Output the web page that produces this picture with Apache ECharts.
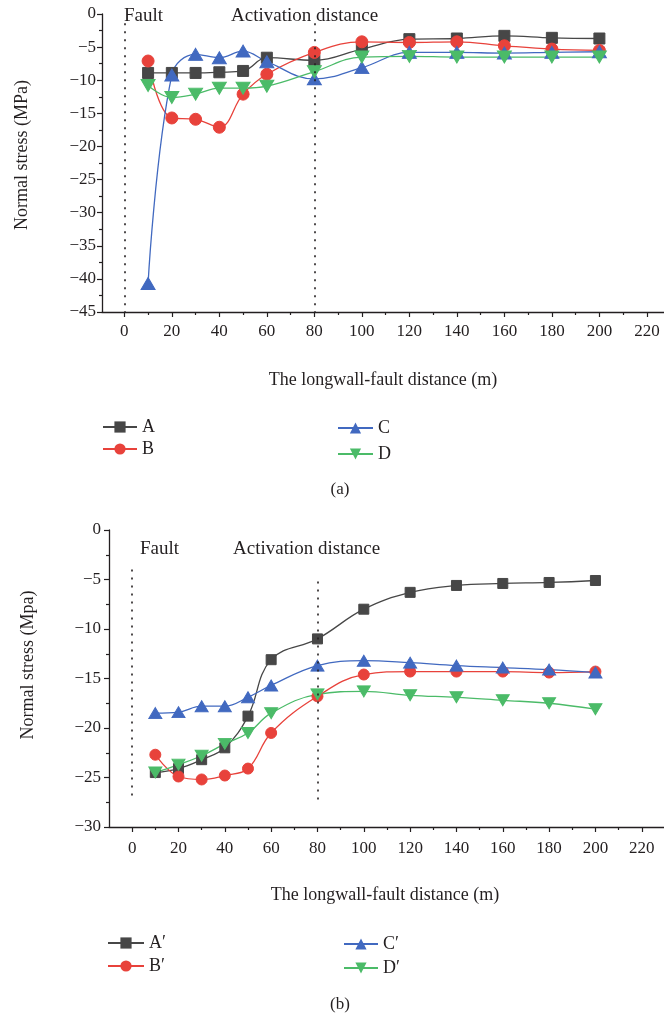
<!DOCTYPE html>
<html>
<head>
<meta charset="utf-8">
<title>Normal stress vs longwall-fault distance</title>
<script src="https://cdn.jsdelivr.net/npm/echarts@6/dist/echarts.min.js"></script>
<style>
  html, body { margin: 0; padding: 0; background: #fff; }
  #main { width: 664px; height: 1021px; }
</style>
</head>
<body>
<div id="main"></div>
<script>
// longwall-fault distance (m)
const distance = [10, 20, 30, 40, 50, 60, 80, 100, 120, 140, 160, 180, 200];

// (a) normal stress (MPa)
const stressA = [-8.9, -8.9, -8.9, -8.8, -8.6, -6.6, -7.0, -5.3, -3.8, -3.7, -3.3, -3.6, -3.7];
const stressB = [-7.1, -15.7, -15.9, -17.1, -12.1, -9.1, -5.8, -4.2, -4.3, -4.2, -4.8, -5.3, -5.5];
const stressC = [-40.7, -9.2, -6.1, -6.6, -5.6, -7.2, -9.8, -8.1, -5.8, -5.8, -5.9, -5.8, -5.7];
const stressD = [-10.8, -12.6, -12.1, -11.2, -11.2, -10.9, -8.7, -6.5, -6.4, -6.5, -6.5, -6.5, -6.5];

// (b) normal stress (MPa)
const stressA2 = [-24.5, -24.1, -23.2, -22.0, -18.8, -13.1, -11.0, -8.0, -6.3, -5.6, -5.4, -5.3, -5.1];
const stressB2 = [-22.7, -24.9, -25.2, -24.8, -24.1, -20.5, -16.8, -14.6, -14.3, -14.3, -14.3, -14.4, -14.3];
const stressC2 = [-18.5, -18.4, -17.8, -17.8, -16.9, -15.7, -13.7, -13.2, -13.4, -13.7, -13.9, -14.1, -14.4];
const stressD2 = [-24.5, -23.7, -22.8, -21.6, -20.5, -18.5, -16.6, -16.3, -16.7, -16.9, -17.2, -17.5, -18.1];

// tick labels
const xMajorTicks = [0, 20, 40, 60, 80, 100, 120, 140, 160, 180, 200, 220];
const xMinorTicks = [-10, 10, 30, 50, 70, 90, 110, 130, 150, 170, 190, 210, 230];

const FONT = 'Liberation Serif';
const INK = '#231f20';
const colors = { A: '#474747', B: '#e8423b', C: '#4169c0', D: '#4bbb68' };

const chart = echarts.init(document.getElementById('main'));

function pairs(ys) {
  return distance.map((x, i) => [x, ys[i]]);
}

function yLabel(v) {
  return v === 0 ? '0' : '\u2212' + Math.abs(v);
}

function mainX(grid, min, max, margin) {
  return {
    type: 'value', gridIndex: grid, min: min, max: max, position: 'bottom',
    axisLine: { show: true, onZero: false, lineStyle: { color: INK, width: 1.3 } },
    axisTick: { show: true, inside: false, length: 5, customValues: xMajorTicks,
      lineStyle: { color: INK, width: 1.2 } },
    axisLabel: { show: true, customValues: xMajorTicks, margin: margin,
      fontFamily: FONT, fontSize: 17, color: INK },
    splitLine: { show: false }
  };
}

function minorX(grid, min, max) {
  return {
    type: 'value', gridIndex: grid, min: min, max: max, position: 'bottom',
    axisLine: { show: false, onZero: false },
    axisTick: { show: true, inside: false, length: 3,
      customValues: xMinorTicks.filter(v => v > min && v < max),
      lineStyle: { color: INK, width: 1.2 } },
    axisLabel: { show: false },
    splitLine: { show: false }
  };
}

function valY(grid, min, margin) {
  return {
    type: 'value', gridIndex: grid, min: min, max: 0, interval: 5,
    axisLine: { show: true, onZero: false, lineStyle: { color: INK, width: 1.3 } },
    axisTick: { show: true, inside: false, length: 5, lineStyle: { color: INK, width: 1.2 } },
    minorTick: { show: true, splitNumber: 2, length: 3, lineStyle: { color: INK, width: 1.2 } },
    axisLabel: { margin: margin, fontFamily: FONT, fontSize: 17, color: INK, formatter: yLabel },
    splitLine: { show: false }
  };
}

function lineSeries(name, ys, color, symbol, size, rotate, grid, extra) {
  return Object.assign({
    name: name, type: 'line', xAxisIndex: grid * 2, yAxisIndex: grid,
    data: pairs(ys), smooth: 0.4,
    symbol: symbol, symbolSize: size, symbolRotate: rotate,
    lineStyle: { color: color, width: 1.3 },
    itemStyle: { color: color, borderColor: color },
    z: 3
  }, extra || {});
}

function dotted(x, y1, y2) {
  return [{ coord: [x, y1] }, { coord: [x, y2] }];
}

const markDotsA = {
  markLine: {
    silent: true, symbol: ['none', 'none'], label: { show: false },
    lineStyle: { color: INK, type: [2, 6], width: 1.6 },
    data: [dotted(0, -1.4, -45), dotted(80, -1.4, -45)]
  }
};
const markDotsB = {
  markLine: {
    silent: true, symbol: ['none', 'none'], label: { show: false },
    lineStyle: { color: INK, type: [2, 6], width: 1.6 },
    data: [dotted(0, -4, -27.4), dotted(80, -5.2, -27.3)]
  }
};

const legendText = { fontFamily: FONT, fontSize: 18, color: INK, lineHeight: 17 };
function legend(names, left, top, gap, width) {
  return {
    data: names, orient: 'vertical', left: left, top: top, itemGap: gap,
    itemWidth: width, itemHeight: 14, textStyle: legendText, padding: 0,
    selectedMode: false
  };
}

function txt(x, y, text, size, align, rot) {
  return {
    type: 'text', x: x, y: y, rotation: rot || 0, silent: true,
    style: { text: text, fontFamily: FONT, fontSize: size, fill: INK,
      textAlign: align || 'left', textVerticalAlign: 'middle' }
  };
}

const option = {
  animation: false,
  backgroundColor: '#ffffff',
  grid: [
    { left: 102, top: 14, right: 0, height: 298, containLabel: false },
    { left: 109, top: 530, right: 0, height: 297, containLabel: false }
  ],
  xAxis: [
    mainX(0, -9.4, 227.2, 11), minorX(0, -9.4, 227.2),
    mainX(1, -10, 229.6, 13), minorX(1, -10, 229.6)
  ],
  yAxis: [valY(0, -45, 6), valY(1, -30, 8)],
  legend: [
    legend(['A', 'B'], 102, 418, 4, 34),
    legend(['C', 'D'], 337, 419, 8, 35),
    legend(['A\u2032', 'B\u2032'], 107, 934, 5, 36),
    legend(['C\u2032', 'D\u2032'], 343, 935, 6, 34)
  ],
  graphic: [
    txt(124, 16, 'Fault', 19),
    txt(231, 16, 'Activation distance', 19),
    txt(22, 155, 'Normal stress (MPa)', 18, 'center', Math.PI / 2),
    txt(383, 380, 'The longwall-fault distance (m)', 18, 'center'),
    txt(340, 490, '(a)', 17, 'center'),
    txt(140, 549, 'Fault', 19),
    txt(233, 549, 'Activation distance', 19),
    txt(28, 665, 'Normal stress (Mpa)', 18, 'center', Math.PI / 2),
    txt(385, 895, 'The longwall-fault distance (m)', 18, 'center'),
    txt(340, 1005, '(b)', 17, 'center')
  ],
  series: [
    lineSeries('A', stressA, colors.A, 'rect', 11, 0, 0, markDotsA),
    lineSeries('B', stressB, colors.B, 'circle', 12, 0, 0),
    lineSeries('C', stressC, colors.C, 'triangle', [14, 12], 0, 0),
    lineSeries('D', stressD, colors.D, 'triangle', [14, 12], 180, 0),
    lineSeries('A\u2032', stressA2, colors.A, 'rect', 10, 0, 1, markDotsB),
    lineSeries('B\u2032', stressB2, colors.B, 'circle', 11, 0, 1),
    lineSeries('C\u2032', stressC2, colors.C, 'triangle', [13, 11], 0, 1),
    lineSeries('D\u2032', stressD2, colors.D, 'triangle', [13, 11], 180, 1)
  ]
};

chart.setOption(option);
</script>
</body>
</html>
